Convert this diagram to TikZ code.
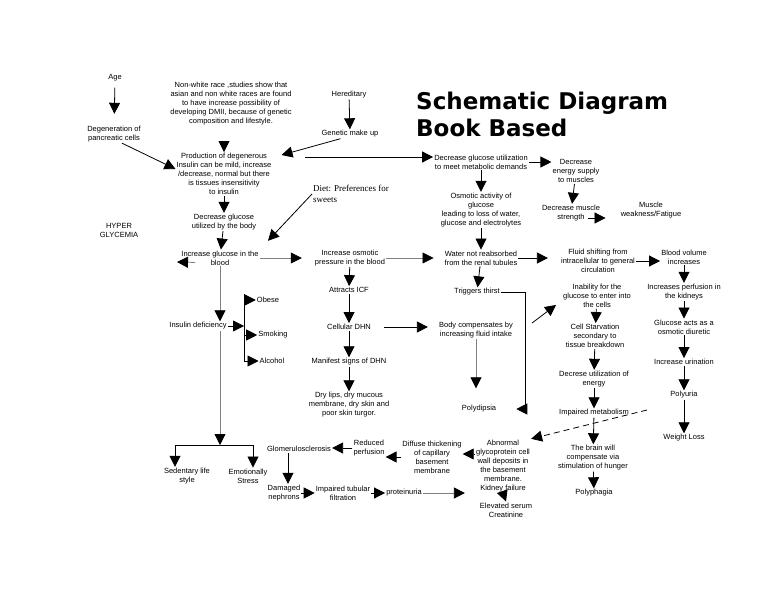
\documentclass[tikz,border=0pt]{standalone}
\usepackage{fontspec}
\setmainfont{Liberation Sans}
\newfontfamily\dietfont{Liberation Serif}
\newfontfamily\titlefont{DejaVu Sans}
\usetikzlibrary{arrows.meta}

\begin{document}
\begin{tikzpicture}[
  x=1pt, y=-1pt,
  >=Stealth,
  txt/.style={align=center, inner sep=1pt, font=\fontsize{7.5}{9}\selectfont},
  ttl/.style={align=left, inner sep=0pt, anchor=west,
              font=\titlefont\bfseries\fontsize{23}{27}\selectfont},
  arr/.style={line width=0.8pt, -{Triangle[length=11pt,width=11pt]}},
  garr/.style={arr, draw=black!50, -{Triangle[length=11pt,width=11pt,color=black]}},
  brk/.style={line width=0.8pt},
]
  \fill[white] (0,0) rectangle (768,594);

  %% Title
  \node[ttl] (title) at (416,114) {Schematic Diagram\\Book Based};

  %% Causes -- top left
  \node[txt] (age)   at (115,78)  {Age};
  \node[txt] (degen) at (114,134) {Degeneration of\\pancreatic cells};
  \node[txt] (race)  at (231,104) {Non-white race ,studies show that\\asian and non white races are found\\to have increase possibility of\\developing DMII, because of genetic\\composition and lifestyle.};
  \node[txt] (hered) at (349,95)  {Hereditary};
  \node[txt] (genet) at (350,134) {Genetic make up};

  %% Insulin and glucose -- left column
  \node[txt] (prod)  at (224,174) {Production of degenerous\\Insulin can be mild, increase\\/decrease, normal but there\\is tissues insensitivity\\to insulin};
  \node[txt] (hyper) at (119,230) {HYPER\\GLYCEMIA};
  \node[txt] (decut) at (224,222) {Decrease glucose\\utilized by the body};
  \node[align=left, inner sep=1pt, anchor=west,
        font=\dietfont\fontsize{9}{11}\selectfont] (diet) at (312,194) {Diet: Preferences for\\sweets};
  \node[txt] (igb)    at (220,258) {Increase glucose in the\\blood};
  \node[txt] (insdef) at (198,326) {Insulin deficiency};
  \node[txt] (obese)  at (268,300) {Obese};
  \node[txt] (smok)   at (273,335) {Smoking};
  \node[txt] (alc)    at (272,361) {Alcohol};
  \node[txt] (sed)    at (187,476) {Sedentary life\\style};
  \node[txt] (emo)    at (248,476) {Emotionally\\Stress};

  %% Energy -- top right
  \node[txt] (dgum) at (481,162) {Decrease glucose utilization\\to meet metabolic demands};
  \node[txt] (dens) at (576,171) {Decrease\\energy supply\\to muscles};
  \node[txt] (osmo) at (481,210) {Osmotic activity of\\glucose\\leading to loss of water,\\glucose and electrolytes};
  \node[txt] (dms)  at (571,213) {Decrease muscle\\strength};
  \node[txt] (mwf)  at (651,210) {Muscle\\weakness/Fatigue};

  %% Osmotic pressure -- centre
  \node[txt] (iop)    at (350,258) {Increase osmotic\\pressure in the blood};
  \node[txt] (icf)    at (349,290) {Attracts ICF};
  \node[txt] (cdhn)   at (349,327) {Cellular DHN};
  \node[txt] (msd)    at (349,362) {Manifest signs of DHN};
  \node[txt] (dry)    at (349,405) {Dry lips, dry mucous\\membrane, dry skin and\\poor skin turgor.};
  \node[txt] (wnr)    at (481,258) {Water not reabsorbed\\from the renal tubules};
  \node[txt] (thirst) at (477,292) {Triggers thirst};
  \node[txt] (bcf)    at (476,330) {Body compensates by\\increasing fluid intake};
  \node[txt] (polyd)  at (479,409) {Polydipsia};

  %% Cells and circulation -- right
  \node[txt] (fsf)   at (598,261) {Fluid shifting from\\intracellular to general\\circulation};
  \node[txt] (inab)  at (597,296) {Inability for the\\glucose to enter into\\the cells};
  \node[txt] (cstv)  at (595,336) {Cell Starvation\\secondary to\\tissue breakdown};
  \node[txt] (due)   at (594,379) {Decrese utilization of\\energy};
  \node[txt] (imet)  at (594,413) {Impaired metabolism};
  \node[txt] (brain) at (593,458) {The brain will\\compensate via\\stimulation of hunger};
  \node[txt] (polyp) at (594,493) {Polyphagia};
  \node[txt] (bvi)   at (684,257) {Blood volume\\increases};
  \node[txt] (ipk)   at (684,292) {Increases perfusion in\\the kidneys};
  \node[txt] (gaod)  at (684,327) {Glucose acts as a\\osmotic diuretic};
  \node[txt] (iur)   at (684,362) {Increase urination};
  \node[txt] (polyu) at (684,395) {Polyuria};
  \node[txt] (wloss) at (684,438) {Weight Loss};

  %% Kidney -- bottom
  \node[txt] (glom)  at (299,449) {Glomerulosclerosis};
  \node[txt] (redp)  at (369,448) {Reduced\\perfusion};
  \node[txt] (dtcb)  at (432,457) {Diffuse thickening\\of capillary\\basement\\membrane};
  \node[txt] (abn)   at (503,466) {Abnormal\\glycoprotein cell\\wall deposits in\\the basement\\membrane.\\Kidney failure};
  \node[txt] (dneph) at (284,493) {Damaged\\nephrons};
  \node[txt] (itf)   at (343,493) {Impaired tubular\\filtration};
  \node[txt] (prot)  at (404,493) {proteinuria};
  \node[txt] (esc)   at (506,510) {Elevated serum\\Creatinine};

  %% free ends and bends
  \coordinate (glu_start) at (305,157);
  \coordinate (hyp_tip)   at (177,262);
  \coordinate (brk_top)   at (244,294);
  \coordinate (brk_bot)   at (244,362);
  \coordinate (fork_l)    at (175,445);
  \coordinate (fork_r)    at (253,445);
  \coordinate (thirst_c)  at (525,288);
  \coordinate (inab_from) at (532,323);
  \coordinate (dash_from) at (647,410);

  %% top left chain
  \draw[arr, shorten <=5pt, shorten >=11pt] (age) -- (degen);
  \draw[arr] ([xshift=8pt]degen.south) -- ([yshift=5pt]prod.west);
  \draw[arr, shorten <=14pt] (race.south -| prod) -- (prod.north);
  \draw[arr] (hered) -- (genet);
  \draw[arr] ([xshift=20pt]genet.south west) -- ([xshift=9pt,yshift=-3pt]prod.north east);
  \draw[arr] (glu_start) -- (glu_start -| dgum.west);
  \draw[arr] (prod) -- (decut);
  \draw[arr] (decut) -- (igb);
  \draw[arr, shorten >=12pt] (diet.west) -- (igb.north east);

  %% glucose in the blood
  \draw[garr] ([xshift=15pt,yshift=4pt]igb.south west) -- (hyp_tip);
  \draw[garr, shorten >=12pt] (igb.east) -- (iop.west);
  \draw[garr] (igb.south) -- (igb.south |- insdef.north);
  \draw[garr] (igb.south |- insdef.south) -- (igb.south |- fork_l);
  \draw[brk] (fork_l) -- (fork_r);
  \draw[arr] (fork_l) -- (fork_l |- sed.north);
  \draw[arr] (fork_r) -- (fork_r |- emo.north);
  \draw[brk] (brk_top) -- (brk_bot);
  \draw[arr] (insdef.east) -- (insdef.east -| brk_top);
  \draw[arr] (obese.west -| brk_top) -- (obese.west);
  \draw[arr] (smok.west -| brk_top) -- (smok.west);
  \draw[arr] (alc.west -| brk_top) -- (alc.west);

  %% osmotic pressure
  \draw[garr, shorten >=10pt] (iop.east) -- (wnr.west);
  \draw[arr] (iop) -- (icf);
  \draw[arr] (icf) -- (cdhn);
  \draw[arr] (cdhn) -- (msd);
  \draw[arr] (msd) -- (dry);
  \draw[arr, shorten <=12pt, shorten >=10pt] (cdhn.east) -- (cdhn.east -| bcf.west);
  \draw[arr] (wnr) -- (thirst);
  \draw[arr, shorten >=12pt] (wnr.east) -- (wnr.east -| fsf.west);
  \draw[arr] (thirst.east) -- (thirst.east -| thirst_c) |- ([xshift=19pt]polyd.east);
  \draw[garr, shorten >=16pt] (bcf.south) -- (bcf.south |- polyd.north);
  \draw[arr] (inab_from) -- ([xshift=-6pt,yshift=4pt]inab.south west);

  %% energy
  \draw[arr] (dgum.east) -- (dgum.east -| dens.west);
  \draw[arr] (dgum) -- (osmo);
  \draw[arr] (dens) -- (dms);
  \draw[arr, shorten >=14pt] ([xshift=-13pt,yshift=-5pt]dms.east) -- ([yshift=-5pt]dms.east -| mwf.west);
  \draw[arr] (osmo) -- (wnr);

  %% right columns
  \draw[arr] (fsf.east) -- (fsf.east -| bvi.west);
  \draw[arr] (bvi) -- (ipk);
  \draw[arr] (ipk) -- (gaod);
  \draw[arr] (gaod) -- (iur);
  \draw[arr] (iur) -- (polyu);
  \draw[arr] (polyu) -- (wloss);
  \draw[arr] (inab) -- (cstv);
  \draw[arr] (cstv) -- (due);
  \draw[arr] (due) -- (imet);
  \draw[arr] (imet) -- (brain);
  \draw[arr] (brain) -- (polyp);
  \draw[arr, dash pattern=on 6pt off 4pt] (dash_from) -- (abn.north east);

  %% kidney
  \draw[arr] ([yshift=12pt]abn.west) -- ([yshift=12pt]abn.west -| dtcb.east);
  \draw[arr] (dtcb.west) -- (dtcb.west -| redp.east);
  \draw[arr] (redp.west) -- (redp.west -| glom.east);
  \draw[arr] ([xshift=-11pt]glom.south) -- ([xshift=-11pt]glom.south |- dneph.north);
  \draw[arr] (dneph.east) -- (dneph.east -| itf.west);
  \draw[arr] (itf.east) -- (itf.east -| prot.west);
  \draw[garr, shorten >=10pt] (prot.east) -- (prot.east -| abn.west);
  \draw[arr] (abn.south) -- (esc.north);
\end{tikzpicture}
\end{document}
